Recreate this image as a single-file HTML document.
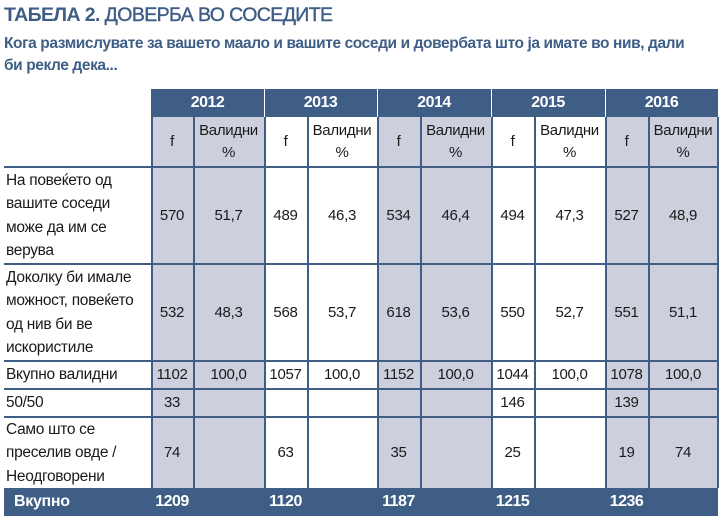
<!DOCTYPE html>
<html><head><meta charset="utf-8"><style>
body{margin:0;width:723px;height:521px;background:#fff;position:relative;overflow:hidden;font-family:"Liberation Sans",sans-serif;color:#1a1a1a}
.a{position:absolute}
.c{position:absolute;display:flex;align-items:center;justify-content:center;text-align:center;font-size:15px;line-height:22px;letter-spacing:-0.3px}
.l{position:absolute;display:flex;align-items:center;font-size:15.5px;line-height:23.5px;padding-left:2px;letter-spacing:-0.3px;white-space:nowrap}
.g{background:#cdd0dc}
.b{background:#3e5e86}
.w{color:#fff;font-weight:bold;font-size:16px;letter-spacing:-0.5px}
.v{position:absolute;top:117px;width:1.5px;height:371px;background:#3e5e86}
.h{position:absolute;left:4px;width:714px;height:2px;background:#3e5e86}
</style></head><body>
<div class="a" style="left:4px;top:4px;font-size:19.5px;color:#3e5e86;white-space:nowrap;letter-spacing:-0.6px;font-weight:bold">ТАБЕЛА 2. <span style="font-weight:normal;-webkit-text-stroke:0.4px #3e5e86">ДОВЕРБА ВО СОСЕДИТЕ</span></div>
<div class="a" style="left:4px;top:33px;font-size:15.5px;font-weight:bold;color:#3e5e86;line-height:22px;letter-spacing:-0.4px;white-space:nowrap">Кога размислувате за вашето маало и вашите соседи и довербата што ја имате во нив, дали<br>би рекле дека...</div>

<div class="a g" style="left:151px;top:117px;width:113px;height:371px"></div>
<div class="a g" style="left:377px;top:117px;width:114px;height:371px"></div>
<div class="a g" style="left:605px;top:117px;width:113px;height:371px"></div>
<div class="a b" style="left:151px;top:89px;width:567px;height:28px"></div>
<div class="a b" style="left:4px;top:488px;width:714px;height:28px"></div>
<div class="a" style="left:264px;top:89px;width:1px;height:28px;background:#fff"></div>
<div class="a" style="left:377px;top:89px;width:1px;height:28px;background:#fff"></div>
<div class="a" style="left:491px;top:89px;width:1px;height:28px;background:#fff"></div>
<div class="a" style="left:605px;top:89px;width:1px;height:28px;background:#fff"></div>

<div class="v" style="left:151px"></div>
<div class="v" style="left:193px"></div>
<div class="v" style="left:264px"></div>
<div class="v" style="left:307px"></div>
<div class="v" style="left:377px"></div>
<div class="v" style="left:420px"></div>
<div class="v" style="left:491px"></div>
<div class="v" style="left:534px"></div>
<div class="v" style="left:605px"></div>
<div class="v" style="left:648px"></div>
<div class="v" style="left:717px"></div>
<div class="h" style="top:166px"></div>
<div class="h" style="top:263px"></div>
<div class="h" style="top:360px"></div>
<div class="h" style="top:388px"></div>
<div class="h" style="top:416px"></div>

<div class="c w" style="left:151px;top:89px;width:113px;height:28px">2012</div>
<div class="c w" style="left:264px;top:89px;width:113px;height:28px">2013</div>
<div class="c w" style="left:377px;top:89px;width:114px;height:28px">2014</div>
<div class="c w" style="left:491px;top:89px;width:114px;height:28px">2015</div>
<div class="c w" style="left:605px;top:89px;width:113px;height:28px">2016</div>

<div class="c" style="left:151px;top:117px;width:42px;height:49px">f</div>
<div class="c" style="left:193px;top:117px;width:71px;height:49px">Валидни<br>%</div>
<div class="c" style="left:264px;top:117px;width:43px;height:49px">f</div>
<div class="c" style="left:307px;top:117px;width:70px;height:49px">Валидни<br>%</div>
<div class="c" style="left:377px;top:117px;width:43px;height:49px">f</div>
<div class="c" style="left:420px;top:117px;width:71px;height:49px">Валидни<br>%</div>
<div class="c" style="left:491px;top:117px;width:43px;height:49px">f</div>
<div class="c" style="left:534px;top:117px;width:71px;height:49px">Валидни<br>%</div>
<div class="c" style="left:605px;top:117px;width:43px;height:49px">f</div>
<div class="c" style="left:648px;top:117px;width:70px;height:49px">Валидни<br>%</div>

<div class="l" style="left:4px;top:168px;width:145px;height:95px">На повеќето од<br>вашите соседи<br>може да им се<br>верува</div>
<div class="l" style="left:4px;top:265px;width:145px;height:95px">Доколку би имале<br>можност, повеќето<br>од нив би ве<br>искористиле</div>
<div class="l" style="left:4px;top:362px;width:145px;height:26px">Вкупно валидни</div>
<div class="l" style="left:4px;top:390px;width:145px;height:26px">50/50</div>
<div class="l" style="left:4px;top:418px;width:145px;height:70px">Само што се<br>преселив овде /<br>Неодговорени</div>
<div class="l" style="left:12px;top:488px;width:140px;height:28px;color:#fff;font-weight:bold;font-size:16px">Вкупно</div>

<div class="c" style="left:151px;top:168px;width:42px;height:95px">570</div>
<div class="c" style="left:193px;top:168px;width:71px;height:95px">51,7</div>
<div class="c" style="left:264px;top:168px;width:43px;height:95px">489</div>
<div class="c" style="left:307px;top:168px;width:70px;height:95px">46,3</div>
<div class="c" style="left:377px;top:168px;width:43px;height:95px">534</div>
<div class="c" style="left:420px;top:168px;width:71px;height:95px">46,4</div>
<div class="c" style="left:491px;top:168px;width:43px;height:95px">494</div>
<div class="c" style="left:534px;top:168px;width:71px;height:95px">47,3</div>
<div class="c" style="left:605px;top:168px;width:43px;height:95px">527</div>
<div class="c" style="left:648px;top:168px;width:70px;height:95px">48,9</div>
<div class="c" style="left:151px;top:265px;width:42px;height:95px">532</div>
<div class="c" style="left:193px;top:265px;width:71px;height:95px">48,3</div>
<div class="c" style="left:264px;top:265px;width:43px;height:95px">568</div>
<div class="c" style="left:307px;top:265px;width:70px;height:95px">53,7</div>
<div class="c" style="left:377px;top:265px;width:43px;height:95px">618</div>
<div class="c" style="left:420px;top:265px;width:71px;height:95px">53,6</div>
<div class="c" style="left:491px;top:265px;width:43px;height:95px">550</div>
<div class="c" style="left:534px;top:265px;width:71px;height:95px">52,7</div>
<div class="c" style="left:605px;top:265px;width:43px;height:95px">551</div>
<div class="c" style="left:648px;top:265px;width:70px;height:95px">51,1</div>
<div class="c" style="left:151px;top:362px;width:42px;height:26px">1102</div>
<div class="c" style="left:193px;top:362px;width:71px;height:26px">100,0</div>
<div class="c" style="left:264px;top:362px;width:43px;height:26px">1057</div>
<div class="c" style="left:307px;top:362px;width:70px;height:26px">100,0</div>
<div class="c" style="left:377px;top:362px;width:43px;height:26px">1152</div>
<div class="c" style="left:420px;top:362px;width:71px;height:26px">100,0</div>
<div class="c" style="left:491px;top:362px;width:43px;height:26px">1044</div>
<div class="c" style="left:534px;top:362px;width:71px;height:26px">100,0</div>
<div class="c" style="left:605px;top:362px;width:43px;height:26px">1078</div>
<div class="c" style="left:648px;top:362px;width:70px;height:26px">100,0</div>
<div class="c" style="left:151px;top:390px;width:42px;height:26px">33</div>
<div class="c" style="left:491px;top:390px;width:43px;height:26px">146</div>
<div class="c" style="left:605px;top:390px;width:43px;height:26px">139</div>
<div class="c" style="left:151px;top:418px;width:42px;height:70px">74</div>
<div class="c" style="left:264px;top:418px;width:43px;height:70px">63</div>
<div class="c" style="left:377px;top:418px;width:43px;height:70px">35</div>
<div class="c" style="left:491px;top:418px;width:43px;height:70px">25</div>
<div class="c" style="left:605px;top:418px;width:43px;height:70px">19</div>
<div class="c" style="left:648px;top:418px;width:70px;height:70px">74</div>
<div class="c w" style="left:151px;top:488px;width:42px;height:28px">1209</div>
<div class="c w" style="left:264px;top:488px;width:43px;height:28px">1120</div>
<div class="c w" style="left:377px;top:488px;width:43px;height:28px">1187</div>
<div class="c w" style="left:491px;top:488px;width:43px;height:28px">1215</div>
<div class="c w" style="left:605px;top:488px;width:43px;height:28px">1236</div>
</body></html>
